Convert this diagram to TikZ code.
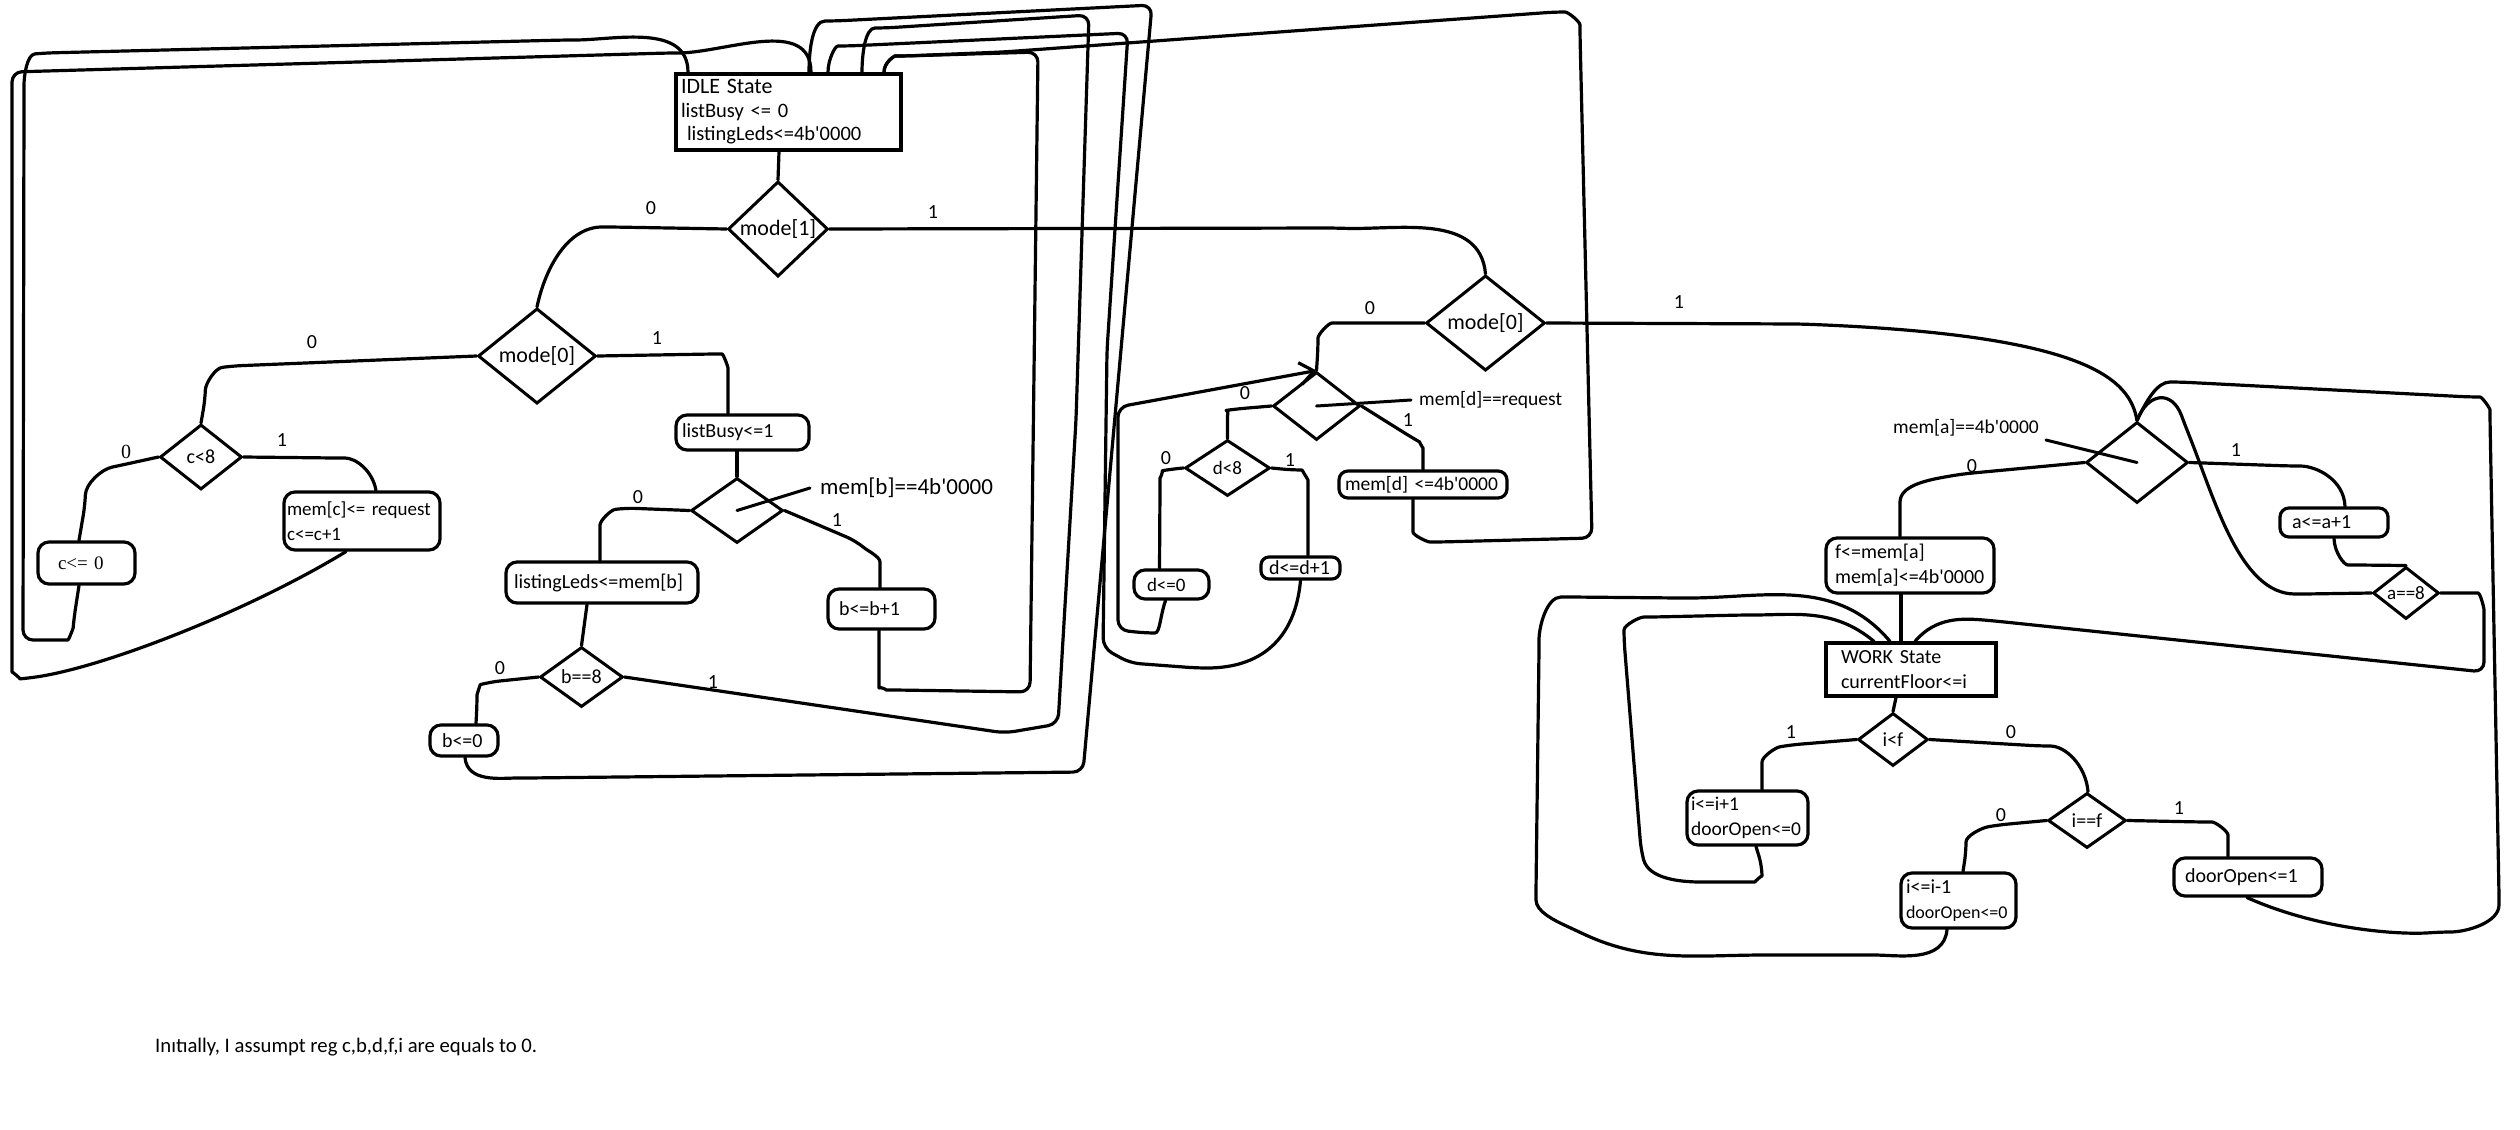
\documentclass[tikz,border=0pt]{standalone}
\usepackage{fontspec}
\setmainfont{Carlito}[Ligatures=TeXOff]
\newfontfamily\altserif{Liberation Serif}
\usetikzlibrary{shapes.geometric,arrows.meta}

\tikzset{
  x=1pt,y=1pt,
  ln/.style={line width=3.2pt,line cap=round,line join=round,rounded corners=10pt},
  ptr/.style={line width=3pt,line cap=round},
  box/.style={draw,line width=3.2pt,rounded corners=11pt,inner ysep=0pt,align=left,
              font=\fontsize{20}{25}\selectfont},
  statebox/.style={draw,line width=3.2pt,inner ysep=0pt,align=left,
              font=\fontsize{20}{25}\selectfont},
  dia/.style={draw,diamond,line width=3pt,inner sep=0pt,align=center,
              font=\fontsize{20}{24}\selectfont},
  num/.style={inner sep=0pt,font=\fontsize{20}{24}\selectfont},
  note/.style={inner sep=0pt,anchor=west},
}

\begin{document}
\begin{tikzpicture}
\fill[white] (0,0) rectangle (2520,-1130);
\useasboundingbox (0,0) rectangle (2520,-1130);

% ---------------- IDLE part ----------------
\node[statebox,minimum width=225pt,minimum height=76pt,text width=215pt,inner xsep=5pt,
      font=\fontsize{20.5}{23.5}\selectfont] (idle) at (788.5,-112)
  {{\fontsize{22}{23.5}\selectfont IDLE State}\\listBusy <= 0\\\hspace*{6pt}listingLeds<=4b'0000};

\node[dia,minimum width=100pt,minimum height=80pt,font=\fontsize{22}{24}\selectfont] (mode1) at (778,-229) {mode[1]};
\node[dia,minimum width=118pt,minimum height=92pt,font=\fontsize{22}{24}\selectfont] (modeL) at (537,-356) {mode[0]};
\node[dia,minimum width=82pt,minimum height=65pt] (c8) at (201,-457) {c<8};
\node[box,minimum width=97pt,minimum height=42pt,text width=57pt,inner xsep=20pt,
      font=\altserif\fontsize{19}{23}\selectfont] (creset) at (86.5,-563) {c<=~0};
\node[box,minimum width=156pt,minimum height=58pt,text width=150pt,inner xsep=3pt,
      font=\fontsize{19}{25}\selectfont] (cinc) at (362,-521) {mem[c]<=~request\\c<=c+1};
\node[box,minimum width=133pt,minimum height=35pt,text width=121pt,inner xsep=6pt] (busy) at (742.5,-432.5) {listBusy<=1};
\node[dia,minimum width=92pt,minimum height=65pt] (memb) at (737,-510.5) {};
\node[note,font=\fontsize{23}{26}\selectfont] (lbb) at (820,-488) {mem[b]==4b'0000};
\node[box,minimum width=192pt,minimum height=41pt,text width=176pt,inner xsep=8pt] (leds) at (602,-582.5) {listingLeds<=mem[b]};
\node[box,minimum width=107pt,minimum height=40pt,text width=85pt,inner xsep=11pt] (binc) at (881.5,-609) {b<=b+1};
\node[dia,minimum width=83pt,minimum height=60pt] (b8) at (581.5,-677) {b==8};
\node[box,minimum width=68pt,minimum height=31pt,text width=44pt,inner xsep=12pt] (breset) at (464,-740.5) {b<=0};

% ---------------- middle part ----------------
\node[dia,minimum width=119pt,minimum height=70pt,font=\fontsize{22}{24}\selectfont] (modeM) at (1485.5,-323) {mode[0]};
\node[dia,minimum width=87pt,minimum height=68pt] (memd) at (1316.5,-406) {};
\node[note,font=\fontsize{19.5}{22}\selectfont] (lbd) at (1419,-400) {mem[d]==request};
\node[dia,minimum width=85pt,minimum height=56pt,font=\fontsize{19}{22}\selectfont] (d8) at (1227.5,-468) {d<8};
\node[box,minimum width=75pt,minimum height=29pt,text width=49pt,inner xsep=13pt,
      font=\fontsize{19}{22}\selectfont] (dreset) at (1171.5,-584.5) {d<=0};
\node[box,minimum width=79pt,minimum height=22pt,text width=63pt,inner xsep=8pt,rounded corners=8pt] (dinc) at (1300.5,-568) {d<=d+1};
\node[box,minimum width=168pt,minimum height=27pt,text width=156pt,inner xsep=6pt,rounded corners=9pt,
      font=\fontsize{19.5}{22}\selectfont] (memdclr) at (1423,-484.5) {mem[d]~<=4b'0000};

% ---------------- WORK part ----------------
\node[dia,minimum width=102pt,minimum height=81pt] (mema) at (2137,-462.5) {};
\node[note,font=\fontsize{19.5}{22}\selectfont] (lba) at (1893,-428) {mem[a]==4b'0000};
\node[box,minimum width=168pt,minimum height=55pt,text width=150pt,inner xsep=9pt] (fget) at (1910,-565.5) {f<=mem[a]\\mem[a]<=4b'0000};
\node[statebox,minimum width=170pt,minimum height=53pt,text width=140pt,inner xsep=15pt] (work) at (1911,-669.5) {WORK~State\\currentFloor<=i};
\node[box,minimum width=108pt,minimum height=29pt,text width=84pt,inner xsep=12pt,rounded corners=9pt] (ainc) at (2334,-522.5) {a<=a+1};
\node[dia,minimum width=66pt,minimum height=52pt,font=\fontsize{19}{22}\selectfont] (a8) at (2406,-593) {a==8};
\node[dia,minimum width=70pt,minimum height=53pt] (iltf) at (1893,-739.5) {i<f};
\node[box,minimum width=121pt,minimum height=54pt,text width=113pt,inner xsep=4pt,
      font=\fontsize{19.5}{25}\selectfont] (iinc) at (1747.5,-818) {i<=i+1\\doorOpen<=0};
\node[dia,minimum width=78pt,minimum height=55pt] (ieqf) at (2087,-820.5) {i==f};
\node[box,minimum width=115pt,minimum height=55pt,text width=105pt,inner xsep=5pt] (idec) at (1958.5,-900.5)
  {i<=i-1\\{\fontsize{18}{22}\selectfont doorOpen<=0}};
\node[box,minimum width=148pt,minimum height=38pt,text width=126pt,inner xsep=11pt] (door) at (2248,-877) {doorOpen<=1};

% ---------------- branch values ----------------
\node[num] (n1) at (651,-208) {0};
\node[num] (n2) at (933,-212) {1};
\node[num] (n3) at (312,-342) {0};
\node[num] (n4) at (657,-338) {1};
\node[num,font=\altserif\fontsize{20}{24}\selectfont] (n5) at (126,-452) {0};
\node[num] (n6) at (282,-440) {1};
\node[num] (n7) at (638,-497) {0};
\node[num] (n8) at (837,-520) {1};
\node[num] (n9) at (500,-668) {0};
\node[num] (n10) at (713,-682) {1};
\node[num] (n11) at (1370,-308) {0};
\node[num] (n12) at (1679,-302) {1};
\node[num] (n13) at (1245,-393) {0};
\node[num] (n14) at (1408,-420) {1};
\node[num] (n15) at (1166,-458) {0};
\node[num] (n16) at (1290,-460) {1};
\node[num] (n17) at (1972,-466) {0};
\node[num] (n18) at (2236,-450) {1};
\node[num] (n19) at (1791,-732) {1};
\node[num] (n20) at (2011,-732) {0};
\node[num] (n21) at (2001,-815) {0};
\node[num] (n22) at (2179,-808) {1};

\node[note,font=\fontsize{20.7}{24}\selectfont] (remark) at (155,-1047)
  {Inıtıally, I assumpt reg c,b,d,f,i are equals to 0.};

% ---------------- connectors: IDLE part ----------------
\draw[ln] ([xshift=-9.5pt]idle.south) -- (mode1.north);
\draw[ln] (mode1.west) -- (612,-227) to[out=180,in=78] (modeL.north);
\draw[ln] (mode1.east) -- (1335,-228) to[out=-2,in=95] (modeM.north);
\draw[ln] (modeL.west) -- (232,-366) to[out=188,in=88] (205,-400) -- (c8.north);
\draw[ln] (modeL.east) -- (712,-354) to[out=0,in=90] (728,-378) -- ([xshift=-14.5pt]busy.north);
\draw[ln] (c8.west) -- (122,-465) to[out=192,in=88] (85,-505) -- ([xshift=-7.5pt]creset.north);
\draw[ln] (c8.east) -- (335,-458) to[out=0,in=100] ([xshift=14pt]cinc.north);
% c<=0 back to IDLE (inner left loop)
\draw[ln] ([xshift=-7.5pt]creset.south) -- (74,-618) to[out=-95,in=0] (58,-640) -- (23,-640)
  -- (24,-95) to[out=90,in=185] (45,-53) -- (565,-40) to[out=0,in=90] ([xshift=-100.5pt]idle.north);
% mem[c]<=request back to IDLE (outer left loop)
\draw[ln] ([xshift=-16pt]cinc.south) .. controls (250,-610) and (110,-665) .. (30,-678)
  to[out=185,in=-90] (12,-662) -- (12,-72) -- (668,-53) to[out=0,in=90] ([xshift=22.5pt]idle.north);
\draw[ln] (memb.north |- busy.south) -- (memb.north);
\draw[ln] (memb.west) -- (625,-508) to[out=188,in=90] (600,-535) -- ([xshift=-2pt]leds.north);
\draw[ln] (memb.east) -- (856,-541) to[out=-40,in=90] (880,-572) -- ([xshift=-1.5pt]binc.north);
\draw[ln] ([xshift=-15pt]leds.south) -- (b8.north);
\draw[ln] (b8.west) -- (490,-682) to[out=195,in=90] (477,-705) -- ([xshift=12pt]breset.north);
% loops back to IDLE on the right
\draw[ln] ([xshift=1pt]breset.south) to[out=-85,in=180] (527,-778) -- (1083,-772) -- (1152,-5)
  -- (835,-21) to[out=180,in=90] ([xshift=20.5pt]idle.north);
\draw[ln] (b8.east) -- (1005,-733) -- (1058,-724) -- (1076,-420) -- (1089,-15)
  -- (885,-28) to[out=180,in=90] ([xshift=73.5pt]idle.north);
\draw[ln] ([xshift=-2.5pt]binc.south) -- (879,-678) to[out=-90,in=180] (896,-690) -- (1030,-692)
  -- (1038,-52) -- (905,-56) to[out=180,in=90] ([xshift=95.5pt]idle.north);
\draw[ptr] (memb.center) -- ([xshift=-10pt]lbb.west);

% ---------------- connectors: middle part ----------------
\draw[ln] (modeM.west) -- (1342,-323) to[out=180,in=90] (1318,-348) -- (memd.north);
\draw[ln] (memd.west) -- (1236,-409) to[out=188,in=90] (1227.5,-425) -- (d8.north);
\draw[ln] (memd.east) -- (1411,-437) to[out=-30,in=90] (1423,-458) -- (memdclr.north);
\draw[ln] (d8.west) -- (1172,-469) to[out=190,in=90] (1160,-488) -- ([xshift=-12pt]dreset.north);
\draw[ln] (d8.east) -- (1292,-470) to[out=0,in=90] (1308,-490) -- ([xshift=7.5pt]dinc.north);
\draw[ln,-{Straight Barb[length=14pt,width=22pt]}] ([xshift=-6pt]dreset.south) to[out=-110,in=0] (1145,-633)
  -- (1118,-630) -- (1118,-407) -- (memd.north);
\draw[ln] (dinc.south) .. controls (1295,-640) and (1260,-668) .. (1197,-668) -- (1130,-663) -- (1103,-648)
  -- (1107,-350) -- (1128,-33) -- (848,-46) to[out=180,in=90] ([xshift=39.5pt]idle.north);
\draw[ln] ([xshift=-10pt]memdclr.south) -- (1413,-522) to[out=-90,in=180] (1440,-542) -- (1592,-538)
  -- (1580,-35) to[out=90,in=0] (1555,-12) -- (1003,-52) -- (905,-56) to[out=180,in=90] ([xshift=95.5pt]idle.north);
\draw[ptr] (memd.center) -- ([xshift=-8pt]lbd.west);

% ---------------- connectors: WORK part ----------------
\draw[ln] (modeM.east) -- (1800,-324) .. controls (2090,-335) and (2130,-380) .. (mema.north);
\draw[ln] (mema.west) -- (1962,-474) to[out=190,in=90] (1900,-512) -- ([xshift=-10pt]fget.north);
\draw[ln] ([xshift=-9pt]fget.south) -- ([xshift=-10pt]work.north);
\draw[ln] (mema.east) -- (2290,-466) to[out=0,in=92] ([xshift=11pt]ainc.north);
\draw[ln] (ainc.south) to[out=-88,in=180] (2358,-565) -- (a8.north);
\draw[ln] (a8.west) -- (2305,-594) .. controls (2240,-594) and (2215,-500) .. (2185,-425)
  .. controls (2172,-390) and (2148,-392) .. (mema.north);
\draw[ln] ([xshift=-1pt]door.south) .. controls (2320,-930) and (2400,-935) .. (2440,-932)
  to[out=0,in=-90] (2499,-895) -- (2490,-420) to[out=90,in=0] (2470,-397) -- (2180,-382)
  to[out=180,in=65] (mema.north);
\draw[ln] (a8.east) -- (2468,-593) to[out=0,in=90] (2484,-620) -- (2484,-672) -- (1995,-621)
  to[out=175,in=50] ([xshift=4pt]work.north);
\draw[ptr] (mema.center) -- ([xshift=7pt,yshift=-12pt]lba.east);
\draw[ln] ([xshift=-15pt]work.south) -- (iltf.north);
\draw[ln] (iltf.west) -- (1790,-745) to[out=190,in=90] (1762,-772) -- ([xshift=14.5pt]iinc.north);
\draw[ln] (iltf.east) -- (2040,-746) to[out=0,in=95] ([xshift=1pt]ieqf.north);
\draw[ln] (ieqf.west) -- (1998,-825) to[out=190,in=90] (1966,-852) -- ([xshift=4.5pt]idec.north);
\draw[ln] (ieqf.east) -- (2202,-822) to[out=0,in=90] (2228,-845) -- ([xshift=-20pt]door.north);
\draw[ln] ([xshift=8.5pt]iinc.south) -- (1762,-866) to[out=-90,in=0] (1745,-882) -- (1711,-882)
  to[out=180,in=-75] (1641,-850) -- (1624,-640) to[out=90,in=180] (1654,-617) -- (1743,-615)
  to[out=0,in=140] ([xshift=-37pt]work.north);
\draw[ln] ([xshift=-11.5pt]idec.south) to[out=-95,in=0] (1864,-955) -- (1775,-955)
  to[out=180,in=-25] (1575,-930) to[out=155,in=-90] (1536,-890) -- (1539,-650)
  to[out=90,in=180] (1571,-597) -- (1679,-598) to[out=0,in=130] ([xshift=-21pt]work.north);
\end{tikzpicture}
\end{document}
